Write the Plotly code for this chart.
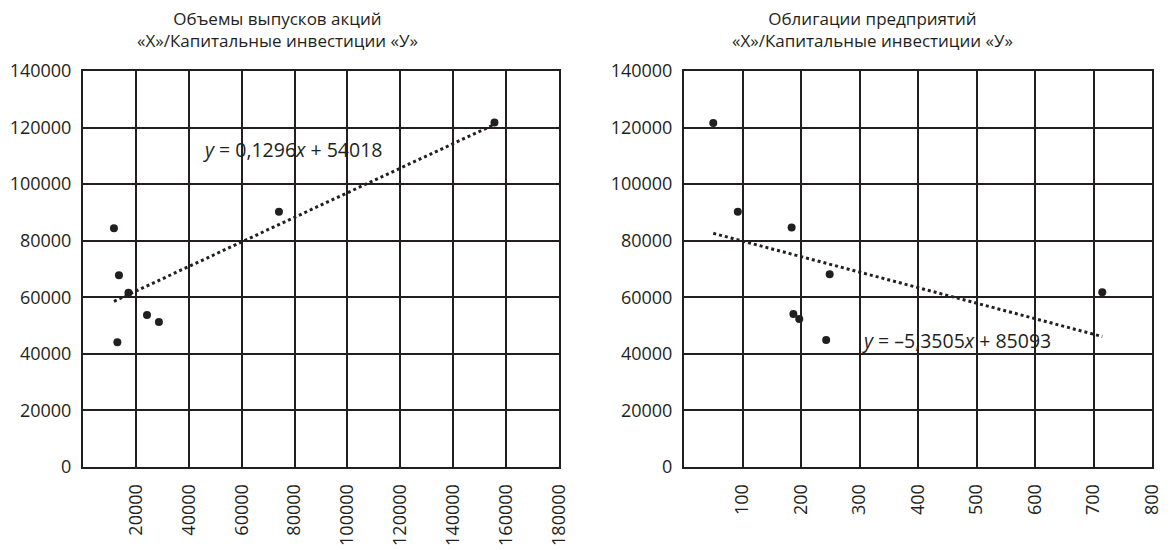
import numpy as np
import plotly.graph_objects as go

# ---- data ----
left_x = [11700, 13600, 17200, 24200, 28700, 13000, 74100, 155600]
left_y = [84400, 67800, 61600, 53700, 51300, 44100, 90200, 121800]
right_x = [50, 92, 184, 249, 187, 197, 243, 715]
right_y = [121600, 90200, 84700, 68100, 54100, 52300, 44900, 61800]

left_title = "Объемы выпусков акций<br>«Х»/Капитальные инвестиции «У»"
right_title = "Облигации предприятий<br>«Х»/Капитальные инвестиции «У»"
left_eq = "<i>y</i> = 0,1296<i>x</i> + 54018"
right_eq = "<i>y</i> = –5,3505<i>x</i> + 85093"

y_ticks = [0, 20000, 40000, 60000, 80000, 100000, 120000, 140000]
left_xticks = [20000, 40000, 60000, 80000, 100000, 120000, 140000, 160000, 180000]
right_xticks = [100, 200, 300, 400, 500, 600, 700, 800]

FONT = "Open Sans"
INK = "#231f20"
OFF = 8  # default page body margin
W, H = 1173 - OFF, 550 - OFF

def px(x):
    return (x - OFF) / W

def py(y):
    return (H - (y - OFF)) / H

fig = go.Figure()

def add_panel(xs, ys, xaxis, yaxis):
    fig.add_trace(go.Scatter(x=xs, y=ys, mode="markers", xaxis=xaxis, yaxis=yaxis,
                             marker=dict(color=INK, size=8), showlegend=False))
    k, b = np.polyfit(xs, ys, 1)
    xr = np.array([min(xs), max(xs)])
    fig.add_trace(go.Scatter(x=xr, y=k * xr + b, mode="lines", xaxis=xaxis, yaxis=yaxis,
                             line=dict(color=INK, width=3, dash="dot"), showlegend=False))

add_panel(left_x, left_y, "x", "y")
add_panel(right_x, right_y, "x2", "y2")

ax_common = dict(showgrid=True, gridcolor=INK, gridwidth=2, showline=True, linecolor=INK,
                 linewidth=2, mirror=True, zeroline=False, ticks="", automargin=False,
                 tickfont=dict(family=FONT, size=18, color=INK))

fig.update_layout(
    width=W, height=H, margin=dict(l=0, r=0, t=0, b=0, autoexpand=False),
    paper_bgcolor="white", plot_bgcolor="white",
    xaxis=dict(domain=[px(83), px(559)], range=[0, 180000], tickvals=left_xticks,
               ticktext=[str(v) for v in left_xticks], tickangle=-90,
               ticklabelstandoff=8, anchor="y", **ax_common),
    yaxis=dict(domain=[py(467), py(71)], range=[0, 140000], tickvals=y_ticks,
               ticktext=[str(v) for v in y_ticks], ticklabelstandoff=6,
               anchor="x", **ax_common),
    xaxis2=dict(domain=[px(684), px(1152)], range=[0, 800], tickvals=right_xticks,
                ticktext=[str(v) for v in right_xticks], tickangle=-90,
                ticklabelstandoff=8, anchor="y2", **ax_common),
    yaxis2=dict(domain=[py(467), py(71)], range=[0, 140000], tickvals=y_ticks,
                ticktext=[str(v) for v in y_ticks], ticklabelstandoff=6,
                anchor="x2", **ax_common),
)

fig.add_annotation(x=px(277), y=py(29), xref="paper", yref="paper", text=left_title,
                   showarrow=False, font=dict(family=FONT, size=17, color=INK),
                   xanchor="center", yanchor="middle", align="center")
fig.add_annotation(x=px(872), y=py(29), xref="paper", yref="paper", text=right_title,
                   showarrow=False, font=dict(family=FONT, size=17, color=INK),
                   xanchor="center", yanchor="middle", align="center")

fig.add_annotation(x=44800, y=112400, xref="x", yref="y", text=left_eq, showarrow=False,
                   font=dict(family=FONT, size=19.5, color=INK), xanchor="left", yanchor="middle")
fig.add_annotation(x=300, y=44900, xref="x2", yref="y2", text=right_eq, showarrow=False,
                   font=dict(family=FONT, size=19.5, color=INK), xanchor="left", yanchor="middle")

fig.write_html("out.html")
